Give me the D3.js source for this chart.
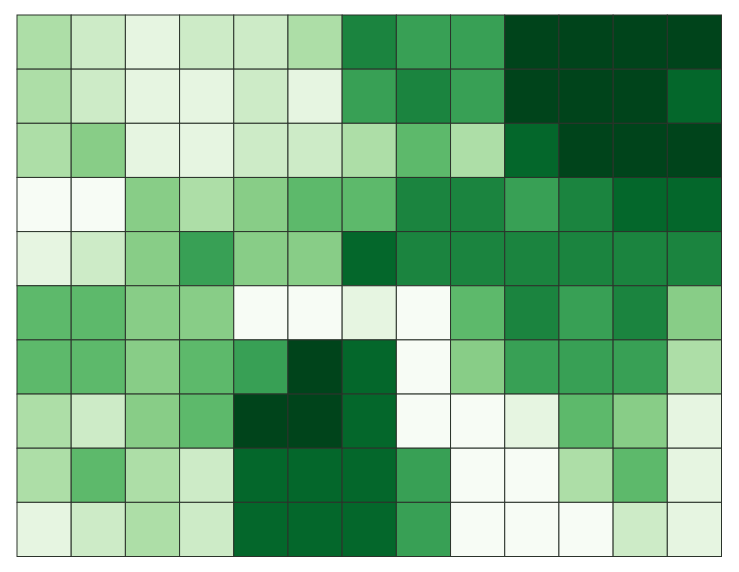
<!DOCTYPE html>
<html>
<head>
<meta charset="utf-8">
<script src="https://cdn.jsdelivr.net/npm/d3@7"></script>
<style>
  html, body { margin: 0; padding: 0; background: #fff; }
</style>
</head>
<body>
<div id="canvas"></div>
<script>
// grid cell levels, 0 (lightest) .. 9 (darkest), one row per line
var rows = d3.range(10);
var cols = d3.range(13);
var levels = [
  [3, 2, 1, 2, 2, 3, 7, 6, 6, 9, 9, 9, 9],
  [3, 2, 1, 1, 2, 1, 6, 7, 6, 9, 9, 9, 8],
  [3, 4, 1, 1, 2, 2, 3, 5, 3, 8, 9, 9, 9],
  [0, 0, 4, 3, 4, 5, 5, 7, 7, 6, 7, 8, 8],
  [1, 2, 4, 6, 4, 4, 8, 7, 7, 7, 7, 7, 7],
  [5, 5, 4, 4, 0, 0, 1, 0, 5, 7, 6, 7, 4],
  [5, 5, 4, 5, 6, 9, 8, 0, 4, 6, 6, 6, 3],
  [3, 2, 4, 5, 9, 9, 8, 0, 0, 1, 5, 4, 1],
  [3, 5, 3, 2, 8, 8, 8, 6, 0, 0, 3, 5, 1],
  [1, 2, 3, 2, 8, 8, 8, 6, 0, 0, 0, 2, 1]
];

var width = 739, height = 572;
var margin = {top: 15, right: 17.5, bottom: 15.5, left: 17};

var svg = d3.select('#canvas').append('svg')
  .attr('width', width)
  .attr('height', height);

var x = d3.scaleBand()
  .domain(cols)
  .range([margin.left, width - margin.right]);

var y = d3.scaleBand()
  .domain(rows)
  .range([margin.top, height - margin.bottom]);

var palette = d3.quantize(d3.interpolateGreens, 10);
var color = d3.scaleOrdinal()
  .domain(d3.range(10))
  .range(palette);

var cells = [];
levels.forEach(function(row, r) {
  row.forEach(function(v, c) {
    cells.push({r: r, c: c, v: v});
  });
});

svg.selectAll('rect.cell')
  .data(cells)
  .enter().append('rect')
  .attr('class', 'cell')
  .attr('x', function(d) { return x(d.c); })
  .attr('y', function(d) { return y(d.r); })
  .attr('width', x.bandwidth())
  .attr('height', y.bandwidth())
  .attr('fill', function(d) { return color(d.v); })
  .attr('stroke', '#2b332b')
  .attr('stroke-width', 1);
</script>
</body>
</html>
